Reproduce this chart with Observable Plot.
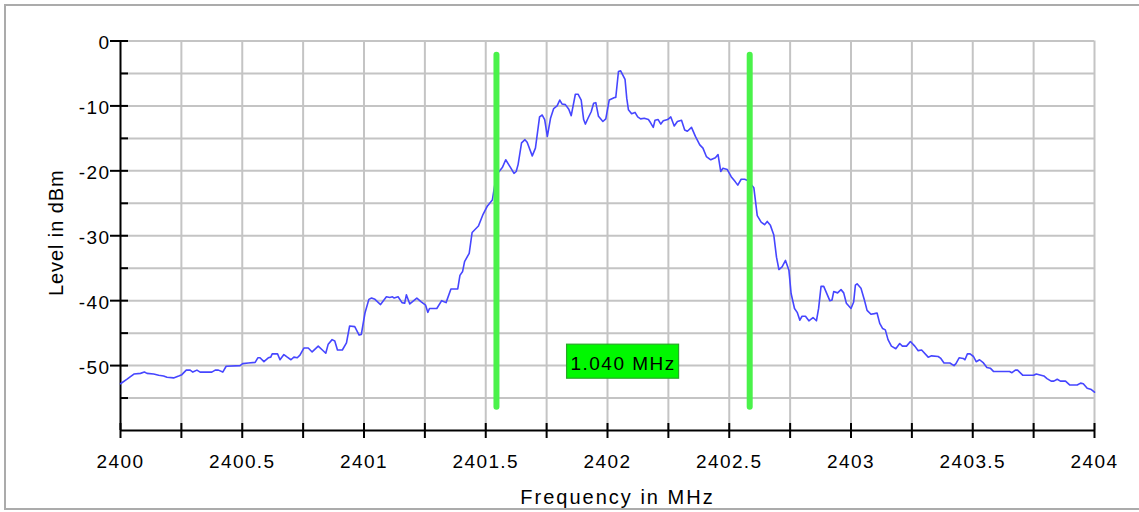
<!DOCTYPE html>
<html>
<head>
<meta charset="utf-8">
<script src="https://cdn.jsdelivr.net/npm/d3@7"></script>
<script src="https://cdn.jsdelivr.net/npm/@observablehq/plot@0.6"></script>
<style>
  html, body { margin: 0; padding: 0; background: #fff; overflow: hidden; }
  #wrap { position: relative; width: 1139px; height: 512px; overflow: hidden; }
  #border { position: absolute; left: 4px; top: 4px; width: 1145px; height: 506px;
            border: 2px solid #ababab; box-sizing: border-box; pointer-events: none; }
</style>
</head>
<body>
<div id="wrap"><div id="border"></div></div>
<script>
// Spectrum trace: frequency (MHz) and level (dBm)
const freqs = [
  2400.000, 2400.027, 2400.055, 2400.082, 2400.098, 2400.109, 2400.136, 2400.157, 2400.177, 2400.191,
  2400.218, 2400.239, 2400.252, 2400.270, 2400.286, 2400.297, 2400.314, 2400.327, 2400.375, 2400.389,
  2400.402, 2400.420, 2400.434, 2400.491, 2400.502, 2400.525, 2400.553, 2400.564, 2400.573, 2400.589,
  2400.607, 2400.617, 2400.623, 2400.645, 2400.655, 2400.671, 2400.685, 2400.700, 2400.712, 2400.726,
  2400.737, 2400.753, 2400.771, 2400.787, 2400.812, 2400.829, 2400.843, 2400.853, 2400.869, 2400.880,
  2400.891, 2400.911, 2400.928, 2400.941, 2400.962, 2400.980, 2400.989,
  2401.004, 2401.020, 2401.031, 2401.045, 2401.068, 2401.092, 2401.106, 2401.117, 2401.124, 2401.140,
  2401.156, 2401.167, 2401.174, 2401.188, 2401.217, 2401.235, 2401.253, 2401.262, 2401.269, 2401.299,
  2401.319, 2401.337, 2401.357, 2401.385, 2401.394, 2401.405, 2401.413, 2401.432, 2401.444, 2401.452,
  2401.470, 2401.489, 2401.507, 2401.527, 2401.544, 2401.568, 2401.582, 2401.602, 2401.616, 2401.625,
  2401.633, 2401.647, 2401.661, 2401.670, 2401.691, 2401.704, 2401.721, 2401.732, 2401.742, 2401.753,
  2401.766, 2401.779, 2401.793, 2401.804, 2401.813, 2401.827, 2401.841, 2401.851, 2401.868, 2401.879,
  2401.892, 2401.902, 2401.909, 2401.920, 2401.933, 2401.943, 2401.952, 2401.963, 2401.981, 2401.993,
  2402.007, 2402.029, 2402.034, 2402.045, 2402.054, 2402.072, 2402.079, 2402.086, 2402.099, 2402.113,
  2402.124, 2402.136, 2402.151, 2402.168, 2402.177, 2402.188, 2402.195, 2402.208, 2402.219, 2402.229,
  2402.247, 2402.260, 2402.274, 2402.287, 2402.304, 2402.317, 2402.328, 2402.345, 2402.361, 2402.379,
  2402.392, 2402.406, 2402.424, 2402.443, 2402.454, 2402.465, 2402.474, 2402.492, 2402.508, 2402.525,
  2402.535, 2402.549, 2402.563, 2402.576, 2402.601, 2402.615, 2402.631, 2402.645, 2402.656, 2402.669,
  2402.683, 2402.694, 2402.704, 2402.717, 2402.731, 2402.745, 2402.754, 2402.768, 2402.779, 2402.790,
  2402.799, 2402.813, 2402.827, 2402.844, 2402.858, 2402.867, 2402.877, 2402.888, 2402.913, 2402.922,
  2402.929, 2402.945, 2402.959, 2402.970, 2402.981, 2403.000, 2403.011, 2403.018, 2403.025, 2403.041,
  2403.055, 2403.066, 2403.082, 2403.096, 2403.107, 2403.118, 2403.130, 2403.141, 2403.152, 2403.166,
  2403.184, 2403.200, 2403.211, 2403.228, 2403.244, 2403.262, 2403.276, 2403.290, 2403.317, 2403.331,
  2403.358, 2403.369, 2403.382, 2403.406, 2403.423, 2403.431, 2403.444, 2403.461, 2403.468, 2403.478,
  2403.489, 2403.503, 2403.514, 2403.528, 2403.544, 2403.558, 2403.572, 2403.585, 2403.651, 2403.661,
  2403.675, 2403.684, 2403.706, 2403.750, 2403.761, 2403.792, 2403.805, 2403.822, 2403.833, 2403.847,
  2403.860, 2403.881, 2403.899, 2403.929, 2403.943, 2403.954, 2403.970, 2403.987, 2404.000
];
const levels = [
  -52.8, -52.1, -51.3, -51.2, -51.0, -51.2, -51.3, -51.5, -51.6, -51.8,
  -51.9, -51.6, -51.4, -50.7, -50.7, -51.0, -50.7, -51.0, -51.0, -50.7,
  -50.7, -51.0, -50.1, -50.0, -49.7, -49.6, -49.5, -48.8, -48.8, -49.4,
  -48.8, -48.7, -48.2, -48.2, -49.1, -48.3, -48.7, -49.1, -48.7, -48.8,
  -48.4, -47.3, -47.3, -47.9, -47.0, -47.6, -48.1, -46.7, -46.0, -46.2,
  -47.6, -47.6, -46.5, -43.9, -44.0, -45.3, -45.2,
  -41.9, -39.8, -39.6, -39.8, -40.6, -39.4, -39.5, -39.4, -39.6, -39.4,
  -40.3, -40.4, -39.1, -40.5, -39.6, -40.2, -40.7, -41.8, -41.2, -41.2,
  -40.0, -40.3, -38.2, -38.2, -36.1, -35.5, -34.0, -32.7, -29.5, -29.2,
  -28.5, -26.7, -25.4, -24.5, -20.6, -19.5, -18.3, -19.5, -20.4, -20.1,
  -19.0, -15.7, -15.2, -15.6, -17.7, -16.5, -11.7, -11.4, -12.1, -14.7,
  -11.9, -10.4, -10.0, -9.1, -9.7, -9.8, -10.5, -11.5, -8.2, -8.2,
  -9.1, -12.1, -12.8, -11.9, -10.9, -9.6, -9.5, -11.6, -12.4, -12.0,
  -9.1, -8.7, -8.7, -4.7, -4.6, -5.9, -8.8, -10.6, -11.2, -11.0,
  -11.7, -12.0, -11.9, -12.1, -12.6, -13.3, -12.2, -12.1, -12.8, -12.3,
  -12.1, -11.7, -13.1, -12.4, -12.2, -13.7, -13.9, -13.3, -14.7, -16.0,
  -16.5, -17.8, -18.3, -18.0, -17.5, -20.1, -19.6, -19.8, -20.9, -21.7,
  -22.2, -21.3, -21.3, -21.5, -22.6, -26.9, -27.9, -28.3, -27.8, -28.4,
  -29.9, -33.3, -35.2, -34.8, -33.8, -35.3, -38.9, -41.2, -41.8, -43.0,
  -42.4, -42.4, -43.1, -42.6, -43.1, -41.2, -37.8, -37.8, -40.0, -39.9,
  -38.6, -38.8, -38.3, -38.8, -40.4, -41.2, -40.2, -37.6, -37.4, -38.1,
  -39.9, -41.5, -42.1, -42.0, -41.9, -43.5, -44.3, -44.5, -46.0, -47.0,
  -47.4, -46.6, -47.0, -47.0, -46.3, -47.0, -47.7, -47.6, -48.7, -48.5,
  -48.6, -48.9, -49.6, -49.6, -50.0, -49.7, -48.8, -48.9, -49.1, -48.2,
  -48.2, -48.6, -49.4, -49.1, -49.6, -50.3, -50.4, -50.9, -50.9, -51.1,
  -50.7, -50.7, -51.5, -51.5, -51.3, -51.6, -52.0, -52.4, -52.4, -52.1,
  -52.4, -52.4, -53.0, -53.0, -52.7, -52.8, -53.5, -53.7, -54.1
];

// Marker lines (MHz) and their vertical extent (dBm)
const markerFreqs = [2401.544, 2402.584];
const markerTop = -2.2;
const markerBottom = -56.4;
const bandLabelLevel = -49.4;

// Axes
const xDomain = [2400, 2404];
const yDomain = [-60, 0];
const xTicks = [2400, 2400.25, 2400.5, 2400.75, 2401, 2401.25, 2401.5, 2401.75, 2402,
                2402.25, 2402.5, 2402.75, 2403, 2403.25, 2403.5, 2403.75, 2404];
const xTickLabels = [2400, 2400.5, 2401, 2401.5, 2402, 2402.5, 2403, 2403.5, 2404];
const yMajorTicks = [0, -10, -20, -30, -40, -50];
const yMinorTicks = [-5, -15, -25, -35, -45, -55];
const xTitle = "Frequency in MHz";
const yTitle = "Level in dBm";

const data = freqs.map((f, i) => ({f, dB: levels[i]}));
const band = {
  mid: (markerFreqs[0] + markerFreqs[1]) / 2,
  level: bandLabelLevel,
  label: (markerFreqs[1] - markerFreqs[0]).toFixed(3) + " MHz"
};
const yGrid = [...yMajorTicks, ...yMinorTicks];
const gridStyle = {stroke: "#c4c4c4", strokeOpacity: 1, strokeWidth: 2};

const chart = Plot.plot({
  width: 1139,
  height: 512,
  marginLeft: 120,
  marginRight: 45,
  marginTop: 40.5,
  marginBottom: 82,
  style: {fontFamily: "'Liberation Sans', Arial, sans-serif", background: "transparent", color: "black"},
  x: {domain: xDomain, axis: null},
  y: {domain: yDomain, axis: null},
  marks: [
    Plot.gridX(xTicks.slice(1), gridStyle),
    Plot.gridY(yGrid, gridStyle),
    Plot.ruleX([xDomain[0]], {stroke: "black", strokeWidth: 2}),
    Plot.ruleY([yDomain[0]], {stroke: "black", strokeWidth: 2}),
    Plot.axisX(xTicks, {tickSize: 15, dy: -7, tickFormat: () => "", label: null, strokeWidth: 2}),
    Plot.axisX(xTickLabels, {tickSize: 0, tickPadding: 24, fontSize: 19, tickFormat: d => String(d), label: null}),
    Plot.axisY(yMajorTicks, {tickSize: 18, dx: 8, tickFormat: () => "", label: null, strokeWidth: 2}),
    Plot.axisY(yMinorTicks, {tickSize: 8, dx: 8, tickFormat: () => "", label: null, strokeWidth: 2}),
    Plot.axisY(yMajorTicks, {tickSize: 0, tickPadding: 10, dy: 2, fontSize: 19, tickFormat: d => String(d), label: null}),
    Plot.line(data, {x: "f", y: "dB", stroke: "#4646ff", strokeWidth: 1.6}),
    Plot.ruleX(markerFreqs, {y1: markerTop, y2: markerBottom, stroke: "#4af24a", strokeWidth: 6, strokeLinecap: "round"}),
    Plot.rect([band], {x1: "mid", x2: "mid", y1: "level", y2: "level",
      insetLeft: -56, insetRight: -56, insetTop: -17, insetBottom: -17,
      fill: "#00f800", stroke: "#27a827", strokeWidth: 1.2}),
    Plot.text([band], {x: "mid", y: "level", text: "label", fontSize: 19, dy: 2, fill: "black"}),
    Plot.text([yTitle], {frameAnchor: "left", textAnchor: "middle", lineAnchor: "middle", rotate: -90,
      dx: -64, dy: -3, fontSize: 20, fill: "black"}),
    Plot.text([xTitle], {frameAnchor: "bottom", textAnchor: "middle", lineAnchor: "middle",
      dx: 10, dy: 67.5, fontSize: 20, fill: "black"})
  ]
});
// widen the lettering to match the reference rendering
d3.select(chart).selectAll("text").each(function () {
  const t = this.textContent;
  let ls = "1.4px";
  if (t === xTitle) ls = "2px";
  else if (t === yTitle) ls = "0.9px";
  else if (t === band.label) ls = "1.5px";
  this.style.letterSpacing = ls;
});
document.getElementById("wrap").prepend(chart);
</script>
</body>
</html>
